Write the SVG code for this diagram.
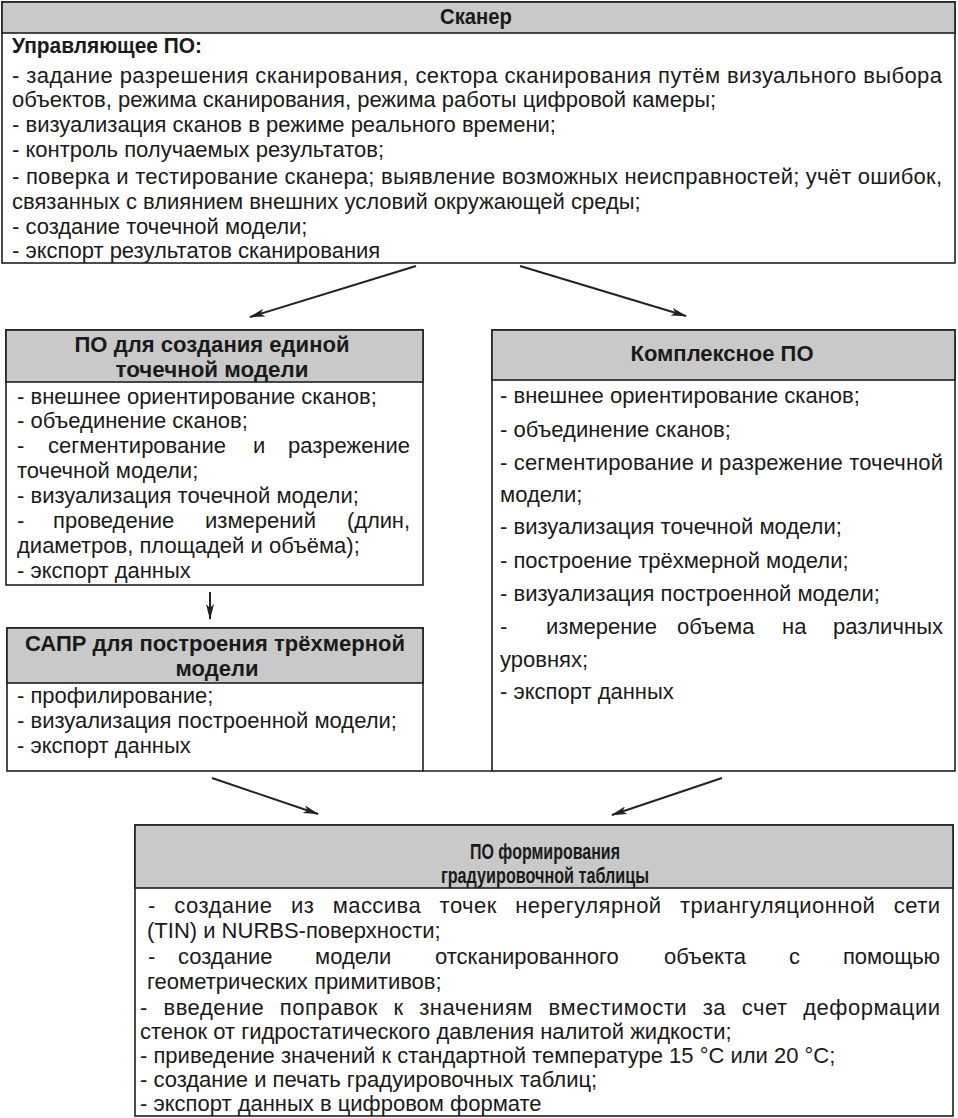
<svg xmlns="http://www.w3.org/2000/svg" width="958" height="1118" viewBox="0 0 958 1118">
<style>
.box{fill:#fff;stroke:#1e1e1e;stroke-width:1.6}
.hdr{fill:#c9c9c9;stroke:#1e1e1e;stroke-width:1.6}
.t{font-family:"Liberation Sans",Arial,sans-serif;font-size:22px;fill:#1a1a1a}
.b{font-weight:bold}
.c{text-anchor:middle}
.con{stroke:#222;stroke-width:2;fill:none;marker-end:url(#ah)}
</style>
<defs>
<marker id="ah" viewBox="0 0 16 8" refX="15" refY="4" markerWidth="16" markerHeight="8" markerUnits="userSpaceOnUse" orient="auto">
<path d="M0,0 L16,4 L0,8 L4,4 Z" fill="#222"/>
</marker>
</defs>
<rect width="958" height="1118" fill="#fff"/>

<g id="scanner">
<rect class="box" x="2" y="2" width="953" height="261"/>
<rect class="hdr" x="2" y="2" width="953" height="31"/>
<text class="t b c" x="476" y="24" font-size="20" textLength="72" lengthAdjust="spacingAndGlyphs">Сканер</text>
<text class="t b" x="12" y="53" font-size="21" textLength="190" lengthAdjust="spacingAndGlyphs">Управляющее ПО:</text>
<text class="t" x="12" y="83" textLength="930" lengthAdjust="spacing">- задание разрешения сканирования, сектора сканирования путём визуального выбора</text>
<text class="t" x="12" y="107">объектов, режима сканирования, режима работы цифровой камеры;</text>
<text class="t" x="12" y="132">- визуализация сканов в режиме реального времени;</text>
<text class="t" x="12" y="157">- контроль получаемых результатов;</text>
<text class="t" x="12" y="184" textLength="930" lengthAdjust="spacing">- поверка и тестирование сканера; выявление возможных неисправностей; учёт ошибок,</text>
<text class="t" x="12" y="209">связанных с влиянием внешних условий окружающей среды;</text>
<text class="t" x="12" y="234">- создание точечной модели;</text>
<text class="t" x="12" y="258">- экспорт результатов сканирования</text>
</g>

<g id="pointmodel">
<rect class="box" x="6" y="330" width="417" height="255"/>
<rect class="hdr" x="6" y="330" width="417" height="52"/>
<text class="t b c" x="212" y="352" textLength="275" lengthAdjust="spacingAndGlyphs">ПО для создания единой</text>
<text class="t b c" x="212" y="377" textLength="193" lengthAdjust="spacingAndGlyphs">точечной модели</text>
<text class="t" x="17" y="404">- внешнее ориентирование сканов;</text>
<text class="t" x="17" y="428">- объединение сканов;</text>
<text class="t" x="17" y="453">-</text>
<text class="t" x="48" y="453">сегментирование</text>
<text class="t" x="253" y="453">и</text>
<text class="t" x="288" y="453" textLength="122" lengthAdjust="spacing">разрежение</text>
<text class="t" x="17" y="478">точечной модели;</text>
<text class="t" x="17" y="503">- визуализация точечной модели;</text>
<text class="t" x="17" y="528">-</text>
<text class="t" x="53" y="528">проведение</text>
<text class="t" x="205" y="528">измерений</text>
<text class="t" x="347" y="528" textLength="63" lengthAdjust="spacing">(длин,</text>
<text class="t" x="17" y="553">диаметров, площадей и объёма);</text>
<text class="t" x="17" y="578">- экспорт данных</text>
</g>

<g id="cad">
<rect class="box" x="7" y="628" width="416" height="143"/>
<rect class="hdr" x="7" y="628" width="416" height="55"/>
<text class="t b c" x="215" y="651" textLength="380" lengthAdjust="spacingAndGlyphs">САПР для построения трёхмерной</text>
<text class="t b c" x="217" y="676" textLength="83" lengthAdjust="spacingAndGlyphs">модели</text>
<text class="t" x="17" y="703">- профилирование;</text>
<text class="t" x="17" y="728">- визуализация построенной модели;</text>
<text class="t" x="17" y="753">- экспорт данных</text>
</g>

<g id="complex">
<rect class="box" x="492" y="330" width="463" height="441"/>
<rect class="hdr" x="492" y="330" width="463" height="50"/>
<text class="t b c" x="722" y="361" textLength="183" lengthAdjust="spacingAndGlyphs">Комплексное ПО</text>
<text class="t" x="500" y="403">- внешнее ориентирование сканов;</text>
<text class="t" x="500" y="437">- объединение сканов;</text>
<text class="t" x="500" y="470" textLength="443" lengthAdjust="spacing">- сегментирование и разрежение точечной</text>
<text class="t" x="500" y="502">модели;</text>
<text class="t" x="500" y="534">- визуализация точечной модели;</text>
<text class="t" x="500" y="568">- построение трёхмерной модели;</text>
<text class="t" x="500" y="601">- визуализация построенной модели;</text>
<text class="t" x="500" y="634">-</text>
<text class="t" x="546" y="634">измерение</text>
<text class="t" x="677" y="634">объема</text>
<text class="t" x="782" y="634">на</text>
<text class="t" x="833" y="634" textLength="110" lengthAdjust="spacing">различных</text>
<text class="t" x="500" y="667">уровнях;</text>
<text class="t" x="500" y="699">- экспорт данных</text>
</g>

<g id="frame">
<line x1="423" y1="771" x2="492" y2="771" stroke="#1e1e1e" stroke-width="1.6"/>
</g>

<g id="calibration">
<rect class="box" x="135" y="825" width="818" height="291"/>
<rect class="hdr" x="135" y="825" width="818" height="63"/>
<text class="t b c" x="545" y="859" textLength="150" lengthAdjust="spacingAndGlyphs">ПО формирования</text>
<text class="t b c" x="545" y="883" textLength="208" lengthAdjust="spacingAndGlyphs">градуировочной таблицы</text>
<text class="t" x="148" y="913" word-spacing="12" textLength="792" lengthAdjust="spacing">- создание из массива точек нерегулярной триангуляционной сети</text>
<text class="t" x="147" y="938">(TIN) и NURBS-поверхности;</text>
<text class="t" x="148" y="964">-</text>
<text class="t" x="178" y="964">создание</text>
<text class="t" x="315" y="964">модели</text>
<text class="t" x="435" y="964">отсканированного</text>
<text class="t" x="664" y="964">объекта</text>
<text class="t" x="789" y="964">с</text>
<text class="t" x="843" y="964" textLength="97" lengthAdjust="spacing">помощью</text>
<text class="t" x="147" y="989">геометрических примитивов;</text>
<text class="t" x="140" y="1015" word-spacing="9" textLength="800" lengthAdjust="spacing">- введение поправок к значениям вместимости за счет  деформации</text>
<text class="t" x="140" y="1039">стенок от гидростатического давления налитой жидкости;</text>
<text class="t" x="140" y="1063">- приведение значений к стандартной температуре 15 °C или 20 °C;</text>
<text class="t" x="140" y="1087">- создание и печать градуировочных таблиц;</text>
<text class="t" x="140" y="1111">- экспорт данных в цифровом формате</text>
</g>

<g id="connectors">
<line class="con" x1="416" y1="266" x2="250" y2="317"/>
<line class="con" x1="520" y1="266" x2="686" y2="316"/>
<line class="con" x1="210" y1="592" x2="210" y2="619"/>
<line class="con" x1="212" y1="778" x2="318" y2="814"/>
<line class="con" x1="722" y1="778" x2="612" y2="815"/>
</g>
</svg>
